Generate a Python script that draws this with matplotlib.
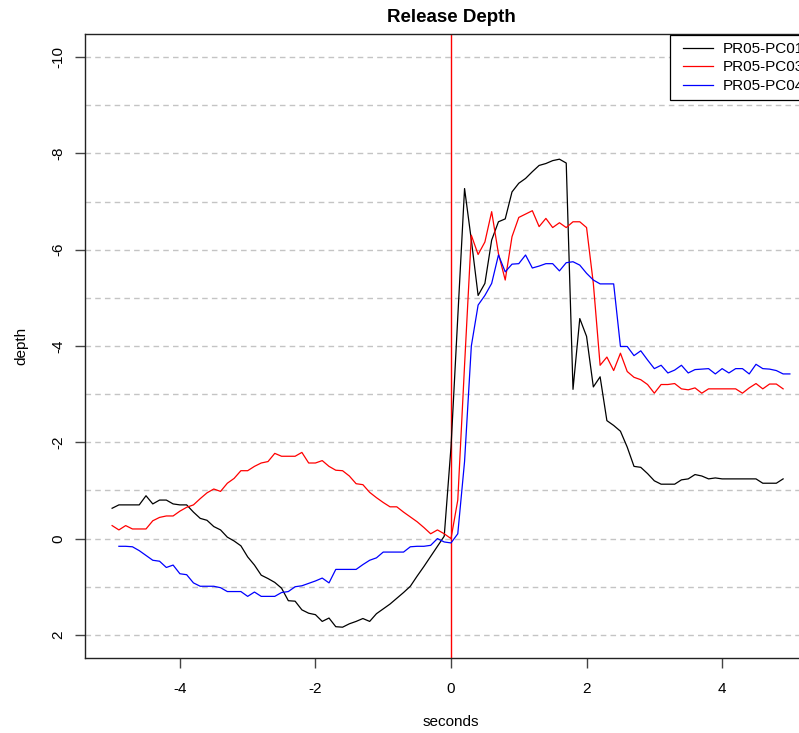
import numpy as np
import matplotlib
matplotlib.use("Agg")
import matplotlib.pyplot as plt
from matplotlib.legend_handler import HandlerLine2D

plt.rcParams["font.family"] = ["Liberation Sans", "DejaVu Sans"]

# time axis (seconds); PC01/PC03 share one grid, PC04 is offset by one sample
t_main = np.round(np.arange(-5.0, 4.95, 0.1), 1)
t_pc04 = np.round(np.arange(-4.9, 5.05, 0.1), 1)

depth_pc01 = [
    -0.63, -0.70, -0.70, -0.70, -0.70, -0.89, -0.72, -0.80, -0.80, -0.72,
    -0.70, -0.70, -0.55, -0.42, -0.38, -0.25, -0.18, -0.03, 0.05, 0.15,
    0.38, 0.55, 0.76, 0.83, 0.91, 1.03, 1.29, 1.30, 1.48, 1.55,
    1.58, 1.72, 1.65, 1.83, 1.84, 1.77, 1.72, 1.66, 1.72, 1.56,
    1.46, 1.36, 1.24, 1.12, 0.99, 0.78, 0.58, 0.37, 0.16, -0.05,
    -1.90, -4.60, -7.27, -6.20, -5.05, -5.30, -6.20, -6.58, -6.64, -7.20,
    -7.38, -7.48, -7.62, -7.75, -7.79, -7.85, -7.88, -7.80, -3.10, -4.57,
    -4.20, -3.15, -3.36, -2.45, -2.35, -2.23, -1.90, -1.50, -1.48, -1.35,
    -1.20, -1.13, -1.13, -1.13, -1.22, -1.24, -1.33, -1.30, -1.24, -1.26,
    -1.24, -1.24, -1.24, -1.24, -1.24, -1.24, -1.15, -1.15, -1.15, -1.24,
]
depth_pc03 = [
    -0.27, -0.18, -0.27, -0.20, -0.20, -0.20, -0.37, -0.44, -0.47, -0.47,
    -0.57, -0.65, -0.70, -0.83, -0.95, -1.03, -0.98, -1.15, -1.25, -1.41,
    -1.41, -1.50, -1.57, -1.60, -1.77, -1.71, -1.71, -1.71, -1.79, -1.57,
    -1.57, -1.62, -1.50, -1.42, -1.41, -1.30, -1.14, -1.12, -0.96, -0.85,
    -0.75, -0.66, -0.66, -0.55, -0.45, -0.35, -0.23, -0.10, -0.18, -0.10,
    0.00, -0.80, -3.60, -6.30, -5.90, -6.16, -6.79, -5.92, -5.37, -6.27,
    -6.67, -6.74, -6.81, -6.48, -6.65, -6.46, -6.56, -6.46, -6.58, -6.58,
    -6.46, -5.30, -3.60, -3.77, -3.49, -3.85, -3.47, -3.35, -3.30, -3.20,
    -3.02, -3.20, -3.20, -3.22, -3.11, -3.09, -3.13, -3.02, -3.11, -3.11,
    -3.11, -3.11, -3.11, -3.02, -3.13, -3.22, -3.11, -3.21, -3.21, -3.11,
]
depth_pc04 = [
    0.16, 0.16, 0.17, 0.25, 0.35, 0.45, 0.47, 0.60, 0.55, 0.73,
    0.75, 0.92, 0.99, 0.99, 0.99, 1.02, 1.10, 1.10, 1.10, 1.20,
    1.11, 1.20, 1.20, 1.20, 1.12, 1.10, 1.00, 0.98, 0.93, 0.88,
    0.82, 0.92, 0.64, 0.64, 0.64, 0.64, 0.54, 0.45, 0.40, 0.28,
    0.28, 0.28, 0.28, 0.17, 0.16, 0.16, 0.14, 0.00, 0.07, 0.09,
    -0.10, -1.60, -4.00, -4.85, -5.05, -5.30, -5.89, -5.54, -5.70, -5.71,
    -5.89, -5.62, -5.66, -5.71, -5.71, -5.56, -5.73, -5.75, -5.68, -5.51,
    -5.37, -5.29, -5.29, -5.29, -3.99, -3.99, -3.80, -3.90, -3.71, -3.53,
    -3.60, -3.44, -3.50, -3.60, -3.44, -3.51, -3.52, -3.53, -3.42, -3.53,
    -3.44, -3.53, -3.53, -3.42, -3.62, -3.53, -3.52, -3.49, -3.42, -3.42,
]

series_labels = ["PR05-PC01", "PR05-PC03", "PR05-PC04"]
series_colors = ["black", "red", "blue"]

x_ticks = [-4, -2, 0, 2, 4]
y_ticks = [-10, -8, -6, -4, -2, 0, 2]
y_grid = np.arange(-10, 3, 1)

W, H = 799, 733
fig = plt.figure(figsize=(W / 100, H / 100), dpi=100)
# plot region runs past the right edge of the image, as in the reference
left, right, top, bottom = 85, 817, 34, 658
ax = fig.add_axes([left / W, 1 - bottom / H, (right - left) / W, (bottom - top) / H])

for yv in y_grid:
  ax.axhline(yv, color="#c4c4c4", lw=1.0, ls=(0, (4, 3)), zorder=1)
ax.axvline(0, color="red", lw=1.0, zorder=2)

xs = [t_main, t_main, t_pc04]
ys = [depth_pc01, depth_pc03, depth_pc04]
lines = []
for x, y, c, lab in zip(xs, ys, series_colors, series_labels):
  ln, = ax.plot(x, y, color=c, lw=0.9, label=lab, zorder=3)
  lines.append(ln)

ax.set_xlim(-5.4, 5.4)
ax.set_ylim(2.48, -10.48)
ax.set_xticks(x_ticks)
ax.set_yticks(y_ticks)
ax.set_xticklabels([str(v) for v in x_ticks])
ax.set_yticklabels([str(v) for v in y_ticks], rotation=90, va="center")
ax.tick_params(direction="out", length=7, width=1, labelsize=11,
               color="#444444")
ax.tick_params(axis="x", pad=10)
ax.tick_params(axis="y", pad=7)
ax.spines["right"].set_visible(False)
for s in ax.spines.values():
  s.set_linewidth(1.0)
  s.set_color("#222222")

fig.text(451 / W, 1 - 18 / H, "Release Depth", fontsize=13.5,
         fontweight="bold", ha="center", va="center")
fig.text(451 / W, 1 - 722 / H, "seconds", fontsize=11,
         ha="center", va="center")
fig.text(21 / W, 1 - 346 / H, "depth", fontsize=11, rotation=90,
         ha="center", va="center")

# legend box runs off the right edge, as in the reference
leg = fig.legend(
  handles=lines,
  loc="upper left", bbox_to_anchor=(670 / W, 1 - 35 / H),
  fontsize=11, frameon=True, fancybox=False, edgecolor="black",
  framealpha=1, handlelength=2.35, handletextpad=0.65, labelspacing=0.3,
  borderpad=0.45, borderaxespad=0,
  handler_map={ln: HandlerLine2D(xpad=0.4) for ln in lines},
)
leg.get_frame().set_linewidth(0.9)

fig.savefig("out.png", dpi=100)
